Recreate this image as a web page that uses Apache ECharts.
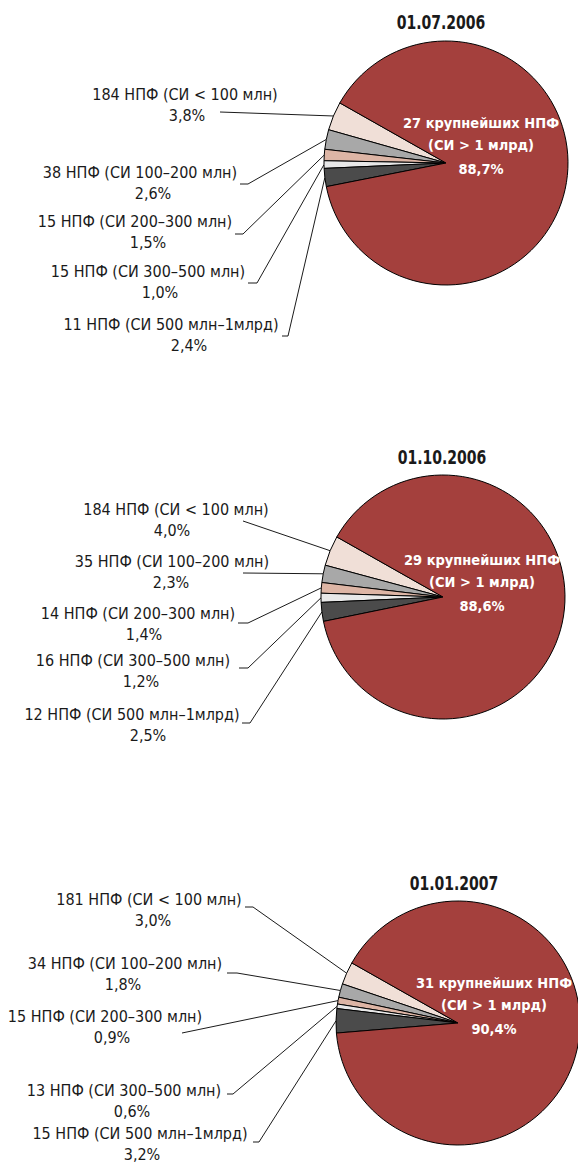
<!DOCTYPE html>
<html><head><meta charset="utf-8">
<script src="https://cdn.jsdelivr.net/npm/echarts@6/dist/echarts.min.js"></script>
<style>html,body{margin:0;padding:0;background:#fff}#c{width:578px;height:1165px}</style>
</head><body><div id="c"></div>
<script>
// ---- data ----
const dates = ['01.07.2006', '01.10.2006', '01.01.2007'];
const groupsJul2006 = ['184 НПФ (СИ < 100 млн)', '38 НПФ (СИ 100–200 млн)', '15 НПФ (СИ 200–300 млн)', '15 НПФ (СИ 300–500 млн)', '11 НПФ (СИ 500 млн–1млрд)', '27 крупнейших НПФ (СИ > 1 млрд)'];
const sharesJul2006 = [3.8, 2.6, 1.5, 1.0, 2.4, 88.7];
const groupsOct2006 = ['184 НПФ (СИ < 100 млн)', '35 НПФ (СИ 100–200 млн)', '14 НПФ (СИ 200–300 млн)', '16 НПФ (СИ 300–500 млн)', '12 НПФ (СИ 500 млн–1млрд)', '29 крупнейших НПФ (СИ > 1 млрд)'];
const sharesOct2006 = [4.0, 2.3, 1.4, 1.2, 2.5, 88.6];
const groupsJan2007 = ['181 НПФ (СИ < 100 млн)', '34 НПФ (СИ 100–200 млн)', '15 НПФ (СИ 200–300 млн)', '13 НПФ (СИ 300–500 млн)', '15 НПФ (СИ 500 млн–1млрд)', '31 крупнейших НПФ (СИ > 1 млрд)'];
const sharesJan2007 = [3.0, 1.8, 0.9, 0.6, 3.2, 90.4];

// ---- styles / layout ----
const sliceColors = ['#f0dfd7', '#a8a8a8', '#ddb5a5', '#e8e8e8', '#4b4b4b', '#a4403d'];
const FONT = "'DejaVu Sans Condensed','Liberation Sans Narrow',sans-serif";
const R = 122;
const pies = [
  { names: groupsJul2006, values: sharesJul2006, date: dates[0], center: [446, 163], title: [441, 22], big: [35, -16],
    labels: [
      { x: 185, y: 105, dp: 2,  lx: 220, ly: 112, t: 0 },
      { x: 140, y: 183, dp: 13, lx: 240, ly: 184, t: 8 },
      { x: 135, y: 232, dp: 13, lx: 235, ly: 234, t: 8 },
      { x: 148, y: 282, dp: 12, lx: 248, ly: 283, t: 9 },
      { x: 171, y: 335, dp: 18, lx: 282, ly: 336, t: 6 }
    ] },
  { names: groupsOct2006, values: sharesOct2006, date: dates[1], center: [443, 597], title: [442, 457], big: [39, -13],
    labels: [
      { x: 176, y: 520, dp: -4, lx: 243, ly: 521, t: 0 },
      { x: 172, y: 572, dp: -1, lx: 243, ly: 573, t: 0 },
      { x: 138, y: 624, dp: 6,  lx: 238, ly: 623, t: 10 },
      { x: 133, y: 671, dp: 8,  lx: 239, ly: 668, t: 9 },
      { x: 132, y: 725, dp: 16, lx: 242, ly: 723, t: 8 }
    ] },
  { names: groupsJan2007, values: sharesJan2007, date: dates[2], center: [458, 1023], title: [454, 883], big: [36, -16],
    labels: [
      { x: 149, y: 910, dp: 4,  lx: 245, ly: 907, t: 8 },
      { x: 125, y: 974, dp: -2, lx: 227, ly: 973, t: 10 },
      { x: 105, y: 1027, dp: 7, lx: 182, ly: 1033, t: 0 },
      { x: 124, y: 1101, dp: 8, lx: 227, ly: 1094, t: 6 },
      { x: 140, y: 1144, dp: 2, lx: 253, ly: 1142, t: 6 }
    ] }
];

const fmtPct = v => v.toFixed(1).replace('.', ',') + '%';

const chart = echarts.init(document.getElementById('c'), null, { renderer: 'svg', width: 578, height: 1165 });

const series = pies.map(p => ({
  type: 'pie',
  center: p.center,
  radius: R,
  startAngle: 150.5,
  clockwise: false,
  avoidLabelOverlap: false,
  animation: false,
  silent: true,
  itemStyle: { borderColor: '#000', borderWidth: 1 },
  labelLine: { show: true, length: 10, length2: 10, smooth: false, lineStyle: { color: '#000', width: 0.9 } },
  data: p.values.map((v, i) => {
    const isBig = i === p.values.length - 1;
    if (isBig) {
      const parts = p.names[i].replace(' (', '\n(').split('\n');
      return {
        name: p.names[i], value: v,
        itemStyle: { color: sliceColors[i] },
        labelLine: { show: false },
        label: {
          show: true, position: 'inside',
          formatter: `{a|${parts[0]}}\n{a|${parts[1]}}\n{b|${fmtPct(v)}}`,
          rich: {
            a: { color: '#fff', fontWeight: 'bold', fontSize: 14.5, lineHeight: 22, fontFamily: FONT, align: 'center' },
            b: { color: '#fff', fontWeight: 'bold', fontSize: 14.5, lineHeight: 27, fontFamily: FONT, align: 'center' }
          }
        }
      };
    }
    const dp = p.labels[i].dp;
    return {
      name: p.names[i], value: v,
      itemStyle: { color: sliceColors[i] },
      label: {
        show: true, position: 'outside',
        formatter: `{n|${p.names[i]}}\n{p|${fmtPct(v)}}`,
        rich: {
          n: { color: '#1a1a1a', fontSize: 16, lineHeight: 20.5, fontFamily: FONT, align: 'center' },
          p: { color: '#1a1a1a', fontSize: 16, lineHeight: 20.5, fontFamily: FONT, align: 'center',
               padding: dp >= 0 ? [0, 0, 0, 2 * dp] : [0, -2 * dp, 0, 0] }
        }
      }
    };
  }),
  labelLayout: params => {
    const i = params.dataIndex;
    if (i === p.values.length - 1) {
      return { x: p.center[0] + p.big[0], y: p.center[1] + p.big[1], align: 'center', verticalAlign: 'middle' };
    }
    const L = p.labels[i];
    const out = { x: L.x, y: L.y, align: 'center', verticalAlign: 'middle' };
    if (params.labelLinePoints && params.labelLinePoints.length) {
      const a = params.labelLinePoints[0];
      out.labelLinePoints = L.t > 0 ? [a, [L.lx + L.t, L.ly], [L.lx, L.ly]] : [a, [L.lx, L.ly]];
    }
    return out;
  }
}));

chart.setOption({
  backgroundColor: '#fff',
  animation: false,
  graphic: pies.map(p => ({
    type: 'text', x: p.title[0], y: p.title[1], scaleX: 0.78,
    style: { text: p.date, fill: '#1a1a1a', font: `bold 20px ${FONT}`, textAlign: 'center', textVerticalAlign: 'middle' }
  })),
  series
});
</script>
</body></html>
